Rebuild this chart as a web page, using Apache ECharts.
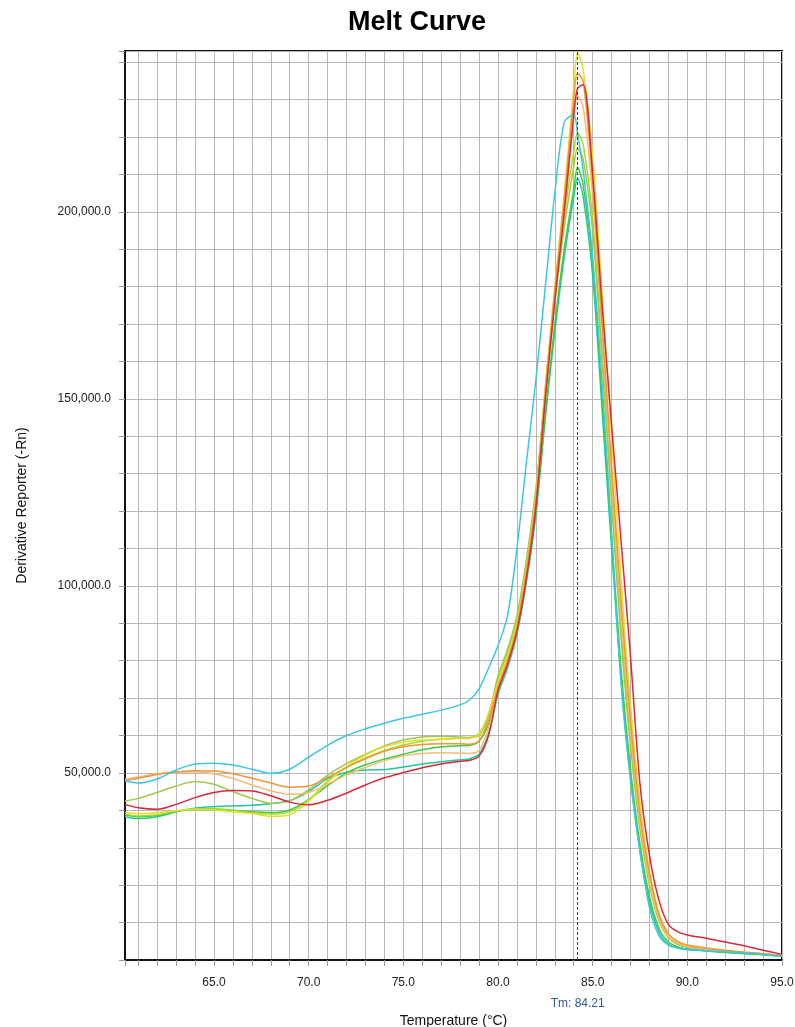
<!DOCTYPE html>
<html>
<head>
<meta charset="utf-8">
<title>Melt Curve</title>
<script src="https://cdn.jsdelivr.net/npm/echarts@6/dist/echarts.min.js"></script>
<style>
  html, body { margin: 0; padding: 0; background: #fff; }
  #chart { width: 795px; height: 1027px; }
</style>
</head>
<body>
<div id="chart"></div>
<script>
// temperature points (°C)
var temps = [60.3, 61, 62, 63, 64, 65, 66, 67, 68, 69, 70, 71, 72, 73, 74, 75, 76, 77, 78, 78.5, 79, 79.5,
             80, 80.5, 81, 81.5, 82, 82.5, 83, 83.5, 84, 84.2, 84.5, 85, 85.5, 86, 86.5, 87, 87.5, 88, 88.5, 89, 89.5, 90, 91, 92, 93, 94, 95];

// derivative reporter, in thousands
var teal = [38.3, 37.8, 38.3, 39.6, 40.6, 41.0, 41.2, 41.4, 41.8, 42.6, 45.0, 48.5, 50.2, 50.8, 50.9, 51.6, 52.4, 53.0, 53.5, 53.8, 55.0, 60.5,
            71, 78, 87, 101, 119, 145, 168, 188, 204, 209, 204, 183, 147, 110, 75, 49, 29, 15.5, 7.5, 4.2, 3.2, 2.8, 2.4, 2.0, 1.7, 1.4, 1.0];
var green = [38.8, 38.3, 38.6, 39.7, 40.2, 40.2, 40.0, 39.6, 39.4, 40.1, 42.9, 46.6, 50.0, 52.2, 53.7, 55.0, 56.2, 57.0, 57.3, 57.4, 58.5, 63.0,
             72, 79, 88, 102, 120, 146, 170, 190, 206, 212, 207, 186, 150, 113, 78, 51, 31, 17, 8.5, 4.8, 3.5, 3.0, 2.5, 2.1, 1.8, 1.5, 1.1];
var lime = [39.0, 38.5, 38.8, 39.8, 40.4, 40.4, 40.0, 39.3, 39.0, 39.6, 42.8, 47.8, 51.5, 54.0, 56.0, 57.5, 58.5, 59.0, 59.3, 59.4, 60.0, 65.0,
            75, 82, 91, 106, 125, 153, 178, 199, 216, 221, 218, 198, 163, 125, 89, 59, 36, 21, 11, 6.2, 4.3, 3.5, 2.9, 2.4, 2.0, 1.6, 1.2];
var olive = [42.5, 43.2, 44.8, 46.5, 47.7, 47.0, 45.0, 43.2, 41.9, 42.6, 45.5, 49.4, 52.5, 55.0, 57.2, 58.8, 59.6, 59.8, 59.6, 59.5, 60.6, 65.5,
             76, 83, 92, 107, 126, 152, 176, 196, 212, 217, 214, 195, 160, 122, 86, 57, 35, 20, 10.5, 6.0, 4.2, 3.4, 2.8, 2.4, 2.0, 1.6, 1.2];
var yellow = [39.4, 39.1, 39.4, 39.9, 40.2, 40.1, 39.6, 39.2, 38.4, 38.8, 42.5, 47.5, 51.7, 54.8, 57.0, 58.2, 58.8, 59.0, 59.2, 59.3, 60.4, 66.0,
              74, 81, 90, 105, 124, 153, 180, 205, 233, 242.5, 238, 215, 178, 140, 102, 68, 42, 24, 12.5, 7.0, 4.8, 3.8, 3.0, 2.5, 2.1, 1.7, 1.2];
var tan = [48.3, 49.0, 49.8, 50.2, 50.3, 49.8, 48.5, 46.8, 45.2, 44.3, 44.8, 47.0, 49.5, 51.5, 53.3, 54.6, 55.2, 55.4, 55.3, 55.2, 56.0, 62.0,
           72, 79, 88, 103, 122, 150, 176, 199, 225, 231, 228, 204, 167, 128, 92, 61, 37, 21, 11, 6.2, 4.5, 3.6, 2.9, 2.4, 2.0, 1.6, 1.2];
var orange = [48.0, 48.6, 49.6, 50.3, 50.6, 50.5, 49.8, 48.6, 47.3, 46.2, 46.5, 48.8, 51.5, 53.8, 55.8, 57.0, 57.6, 57.8, 57.8, 57.7, 58.6, 64.0,
              73, 80, 89, 104, 123, 152, 179, 203, 230, 237, 235, 208, 170, 132, 96, 64, 39, 23, 12, 7.0, 5.0, 4.0, 3.2, 2.6, 2.1, 1.7, 1.2];
var cyan = [47.9, 47.3, 48.4, 50.8, 52.4, 52.6, 52.1, 51.0, 49.9, 51.0, 54.2, 57.4, 60.0, 61.8, 63.3, 64.6, 65.7, 66.8, 68.2, 69.5, 72.5, 78.0,
            84, 92, 110, 133, 155, 180, 205, 224, 226, 221, 211, 188, 154, 114, 74, 48, 29, 14, 6.5, 4.0, 3.2, 2.8, 2.5, 2.2, 1.9, 1.5, 1.0];
var red = [41.6, 40.7, 40.3, 41.6, 43.4, 44.8, 45.3, 45.2, 43.9, 42.2, 41.5, 42.7, 44.6, 46.8, 48.7, 50.1, 51.4, 52.4, 53.1, 53.4, 54.5, 60.0,
           72, 79, 88, 102, 121, 150, 176, 200, 226, 233, 234, 210, 175, 143, 112, 81, 47, 28, 16, 9.5, 7.5, 6.7, 5.8, 4.8, 3.8, 2.6, 1.5];

var curves = [
    {name: 'teal', color: '#20c89c', values: teal},
    {name: 'green', color: '#3ccc3c', values: green},
    {name: 'lime', color: '#9ee024', values: lime},
    {name: 'olive', color: '#a0c84c', values: olive},
    {name: 'yellow', color: '#e6dc30', values: yellow},
    {name: 'tan', color: '#f4bc78', values: tan},
    {name: 'orange', color: '#f0963a', values: orange},
    {name: 'cyan', color: '#3cc6e2', values: cyan},
    {name: 'red', color: '#d8283c', values: red}
];

var tm = 84.21;

var fontName = 'Liberation Sans, Arial, sans-serif';

var myChart = echarts.init(document.getElementById('chart'));

var series = curves.map(function(c){
    return {
        name: c.name,
        type: 'line',
        smooth: 0.3,
        showSymbol: false,
        lineStyle: {color: c.color, width: 1.5},
        itemStyle: {color: c.color},
        data: temps.map(function(t, i){ return [t, c.values[i] * 1000]; })
    };
});

// Tm marker
series[0].markLine = {
    silent: true,
    symbol: ['none', 'none'],
    animation: false,
    lineStyle: {color: '#1f4a8a', type: [3, 2], width: 1},
    label: {
        position: 'start',
        distance: 38,
        formatter: 'Tm: ' + tm.toFixed(2),
        color: '#2d5a9a',
        fontSize: 12,
        fontFamily: fontName
    },
    data: [{xAxis: tm}]
};

var option = {
    animation: false,
    backgroundColor: '#fff',
    title: {
        text: 'Melt Curve',
        left: 343,
        top: 4,
        textStyle: {fontFamily: fontName, fontSize: 27, fontWeight: 'bold', color: '#000'}
    },
    grid: {
        left: 125,
        right: 13,
        top: 51,
        bottom: 67,
        outerBoundsMode: 'none',
        containLabel: false,
        show: true,
        borderColor: '#111',
        borderWidth: 2
    },
    xAxis: {
        type: 'value',
        min: 60.3,
        max: 95,
        minInterval: 1,
        maxInterval: 1,
        name: 'Temperature (°C)',
        nameLocation: 'middle',
        nameGap: 54,
        nameTextStyle: {fontFamily: fontName, fontSize: 14, color: '#111'},
        axisLine: {lineStyle: {color: '#111', width: 2}},
        axisTick: {show: true, length: 6, lineStyle: {color: '#999'}},
        splitLine: {show: true, lineStyle: {color: '#b8b8b8', width: 1}},
        axisLabel: {
            margin: 17,
            fontFamily: fontName,
            fontSize: 12,
            color: '#222',
            showMinLabel: true,
            showMaxLabel: true,
            formatter: function(v){
                return Math.abs(v % 5) < 1e-6 ? v.toFixed(1) : '';
            }
        }
    },
    yAxis: {
        type: 'value',
        min: 0,
        max: 243000,
        minInterval: 10000,
        maxInterval: 10000,
        name: 'Derivative Reporter (-Rn)',
        nameLocation: 'middle',
        nameGap: 96,
        nameTextStyle: {fontFamily: fontName, fontSize: 14, color: '#111'},
        axisLine: {show: true, lineStyle: {color: '#111', width: 2}},
        axisTick: {show: true, length: 6, lineStyle: {color: '#999'}},
        splitLine: {show: true, lineStyle: {color: '#b8b8b8', width: 1}},
        axisLabel: {
            margin: 14,
            fontFamily: fontName,
            fontSize: 12,
            color: '#222',
            formatter: function(v){
                if (v > 0 && v % 50000 === 0) {
                    return v.toLocaleString('en-US', {minimumFractionDigits: 1});
                }
                return '';
            }
        }
    },
    series: series
};

myChart.setOption(option);
</script>
</body>
</html>
